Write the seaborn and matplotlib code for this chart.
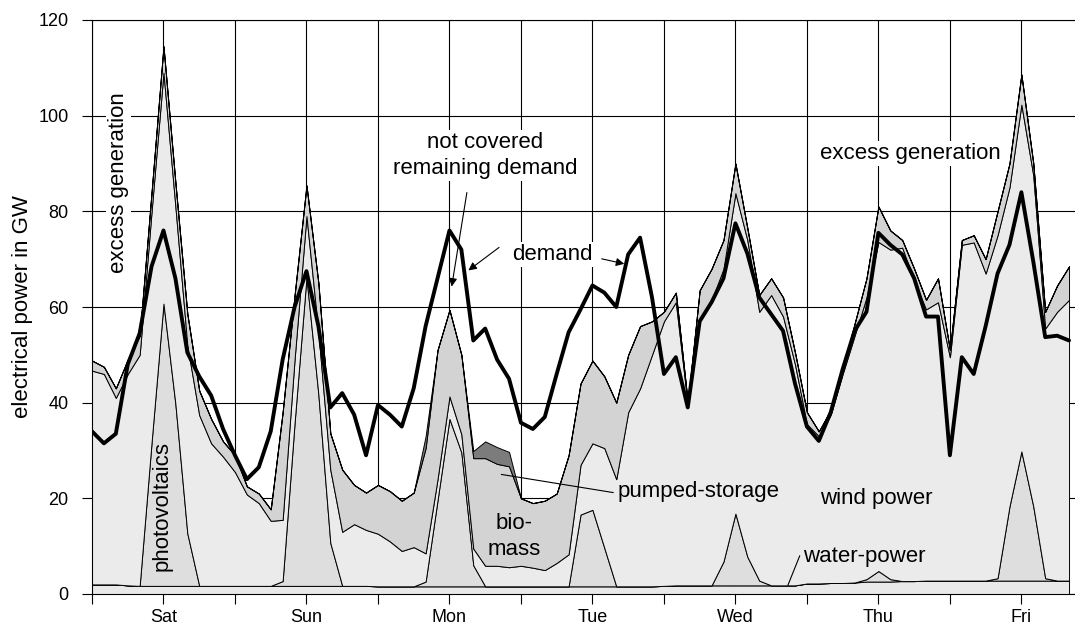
import numpy as np
import seaborn as sns
import matplotlib
matplotlib.use("Agg")
import matplotlib.pyplot as plt

# one value every 2 hours, Sat 00:00 .. Fri 20:00
hours = np.arange(0, 165, 2)
days = ['Sat', 'Sun', 'Mon', 'Tue', 'Wed', 'Thu', 'Fri']

water = [2.0, 2.0, 2.0, 1.8, 1.7, 1.7, 1.7, 1.7, 1.7, 1.7, 1.7, 1.7,
         1.7, 1.7, 1.7, 1.7, 1.7, 1.7, 1.7, 1.7, 1.7, 1.7, 1.7, 1.7,
         1.6, 1.6, 1.6, 1.6, 1.6, 1.6, 1.6, 1.6, 1.6, 1.6, 1.6, 1.6,
         1.6, 1.6, 1.6, 1.6, 1.6, 1.6, 1.6, 1.6, 1.6, 1.6, 1.6, 1.6,
         1.7, 1.8, 1.8, 1.8, 1.8, 1.8, 1.8, 1.8, 1.8, 1.8, 1.8, 1.8,
         2.2, 2.2, 2.3, 2.3, 2.4, 2.6, 2.6, 2.6, 2.7, 2.7, 2.8, 2.8,
         2.8, 2.8, 2.8, 2.8, 2.8, 2.8, 2.8, 2.8, 2.8, 2.8, 2.8]

pv = [0, 0, 0, 0, 0, 30, 59, 38, 11, 0, 0, 0,
      0, 0, 0, 0, 1, 34, 64.5, 40, 9, 0, 0, 0,
      0, 0, 0, 0, 1, 18, 35, 28, 4.4, 0, 0, 0,
      0, 0, 0, 0, 0, 15, 16, 8, 0, 0, 0, 0,
      0, 0, 0, 0, 0, 5, 15, 6, 1, 0, 0, 0,
      0, 0, 0, 0, 0, 0.5, 2.2, 0.5, 0, 0, 0, 0,
      0, 0, 0, 0, 0.5, 15.5, 27, 15.5, 0.5, 0, 0]

wind = [44.7, 44, 39, 44.2, 48.3, 48.3, 48.3, 41.3, 39.3, 35.7, 29.8, 27,
        23.8, 19.1, 17.3, 13.6, 12.8, 13.3, 12.8, 13, 15.3, 11.3, 12.9, 11.7,
        11, 9.4, 7.4, 8.2, 5.9, 4.4, 4.7, 3.8, 3.5, 4.3, 4.3, 4.0,
        4.3, 3.9, 3.4, 4.9, 6.7, 10.4, 13.9, 20.9, 22.4, 36.4, 41.4, 48.4,
        55.3, 59.2, 37.7, 55.7, 59.7, 61.2, 67, 66.2, 56.2, 60.7, 56.2, 46.2,
        33.3, 30.8, 35.2, 43.7, 51.6, 58.9, 68.8, 68.9, 69.7, 62.8, 56.7, 58.2,
        46.7, 70.2, 70.7, 64.2, 71.7, 66.7, 72.5, 69.2, 52.2, 56.2, 58.7]

biomass = [2.1, 1.5, 2, 3, 4, 4, 5.5, 5, 6.6, 5.1, 5.1, 3.2,
           3.5, 1.7, 2, 2.4, 22.5, 13.4, 6.4, 10.3, 7.6, 13, 8.2, 7.8,
           10.2, 10.5, 10.5, 11.4, 22, 27, 18.1, 16.6, 18.9, 22.5, 21.3, 21.1,
           14.1, 13.5, 14.5, 14.5, 20.7, 17, 17.3, 15, 16, 12, 13, 7,
           2, 2, 0.5, 6, 6.5, 6, 6.2, 2.5, 3.5, 3.5, 4, 2.5,
           2.5, 1, 1, 1, 2.5, 4, 7.4, 4, 1.6, 2.5, 2, 5,
           1.5, 1, 1.5, 3, 5, 5, 6.3, 2.5, 3.5, 5.5, 7]

pumped = [0] * 24 + [0, 0, 0, 0, 2.5, 0, 0, 0, 1.5, 3.5, 3.5, 3] + [0] * 47

demand = [34, 31.5, 33.5, 48, 54.5, 68.5, 76, 66, 50.5, 45.5, 41.5, 34.5,
          29, 24, 26.5, 34, 49, 60, 67.5, 56, 39, 42, 37.5, 29,
          39.5, 37.5, 35, 43, 56, 66, 76, 72, 53, 55.5, 49, 45,
          35.8, 34.5, 37, 46, 54.7, 59.5, 64.5, 63, 60, 71, 74.5, 62,
          46, 49.5, 39, 57, 61, 66, 77.5, 71.2, 62, 58.5, 55, 44,
          35, 32, 38, 47, 55, 59, 75.5, 73, 71, 66, 58, 58,
          29, 49.5, 46, 56, 67, 73, 84, 69.5, 53.7, 54, 53]

sns.set_theme(style="ticks")
plt.rcParams['font.family'] = ['Liberation Sans', 'DejaVu Sans']
plt.rcParams['text.color'] = 'black'
plt.rcParams['axes.labelcolor'] = 'black'

fig = plt.figure(figsize=(10.75, 6.26), dpi=100)
ax = fig.add_axes([92 / 1075, 32 / 626, 983 / 1075, 574 / 626])

ax.stackplot(hours, water, pv, wind, biomass, pumped,
             colors=['#e9e9e9', '#dedede', '#ebebeb', '#d3d3d3', '#7c7c7c'],
             edgecolor='black', linewidth=0.7)
sns.lineplot(x=hours, y=demand, ax=ax, color='black', lw=2.8, zorder=3)

ax.set_xlim(0, 165)
ax.set_ylim(0, 120)
ax.set_yticks(np.arange(0, 121, 20))
ax.set_xticks(np.arange(12, 165, 24))
ax.set_xticklabels(days)
ax.set_xticks(np.arange(0, 165, 24), minor=True)
ax.set_axisbelow(True)
ax.grid(True, which='major', color='black', lw=0.8)
ax.grid(True, which='minor', axis='x', color='black', lw=0.8)
ax.tick_params(axis='both', which='both', direction='out', length=7, width=0.8,
               color='black', labelsize=13, labelcolor='black')
ax.tick_params(axis='y', pad=10)
for side in ['left', 'bottom', 'top']:
    ax.spines[side].set_color('black')
    ax.spines[side].set_linewidth(0.8)
ax.spines['right'].set_visible(False)
ax.set_xlabel('')
ax.set_ylabel('electrical power in GW', fontsize=16, color='black')
ax.yaxis.set_label_coords(-0.060, 0.5)

white = dict(facecolor='white', edgecolor='none', pad=1.5)
fs = 16
ax.text(4.4, 86, 'excess generation', rotation=90, ha='center', va='center',
        fontsize=fs, bbox=white, zorder=4)
ax.text(11.8, 18.3, 'photovoltaics', rotation=90, ha='center', va='center',
        fontsize=fs, zorder=4)
ax.text(66, 91.7, 'not covered\nremaining demand', ha='center', va='center',
        fontsize=fs, linespacing=1.35, bbox=white, zorder=4)
ax.text(77.2, 71, 'demand', ha='center', va='center', fontsize=fs, bbox=white, zorder=4)
ax.text(70.9, 12, 'bio-\nmass', ha='center', va='center', fontsize=fs,
        linespacing=1.3, zorder=4)
ax.text(101.8, 21.4, 'pumped-storage', ha='center', va='center', fontsize=fs, zorder=4)
ax.text(131.6, 20, 'wind power', ha='center', va='center', fontsize=fs, zorder=4)
ax.text(129.7, 7.9, 'water-power', ha='center', va='center', fontsize=fs, zorder=4)
ax.text(137.3, 92, 'excess generation', ha='center', va='center', fontsize=fs,
        bbox=white, zorder=4)

arrow = dict(arrowstyle='-|>', color='black', lw=0.8, mutation_scale=12)
ax.annotate('', xy=(60.3, 63.7), xytext=(63, 84.5), arrowprops=arrow, zorder=5)
ax.annotate('', xy=(62.8, 67.3), xytext=(68.7, 72.8), arrowprops=arrow, zorder=5)
ax.annotate('', xy=(89.8, 68.9), xytext=(85.1, 70.2), arrowprops=arrow, zorder=5)

ax.plot([68.7, 87.5], [25, 21.2], color='black', lw=0.8, zorder=4)
ax.plot([118.8, 116.8], [8, 1.8], color='black', lw=0.8, zorder=4)

fig.savefig('out.png', dpi=100)
